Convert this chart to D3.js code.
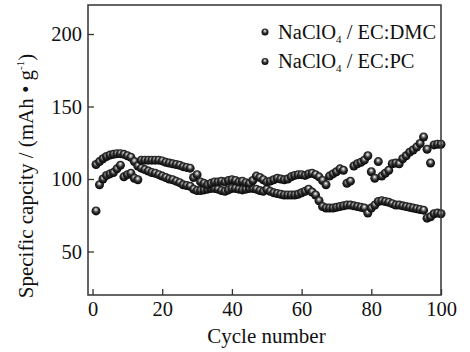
<!DOCTYPE html>
<html>
<head>
<meta charset="utf-8">
<script src="https://cdn.jsdelivr.net/npm/d3@7"></script>
<style>
  body { margin: 0; background: #fff; }
  svg text { font-family: "Liberation Serif", "Times New Roman", serif; fill: #111; }
</style>
</head>
<body>
<svg id="chart" width="470" height="352"></svg>
<script>
const cycles = d3.range(1, 101);

const seriesNames = ['NaClO4/EC:DMC', 'NaClO4/EC:PC'];

// EC:DMC capacity, cycles 1-100
const dmcValues = [
  110, 112, 114, 115.5, 116.5, 117, 117.5, 117.5, 117, 116,
  115, 112, 109, 107.5, 106.5, 105.5, 104.5, 104, 103, 102,
  101, 100, 99.5, 98.5, 97.5, 96, 95.5, 95, 93, 92,
  92, 92.5, 93, 93.5, 93.5, 93, 92, 91.5, 92.5, 93.5,
  93.5, 93, 92.5, 93, 93.5, 93.5, 93, 92, 91.5, 93,
  91.5, 90.5, 90, 89.5, 89, 89, 89, 89, 89.5, 90.5,
  91.5, 93, 91, 89, 85, 81, 80, 80, 80, 80.5,
  81, 81.5, 82, 82, 81.5, 81, 80.5, 80, 76.5, 80,
  82, 84.5, 85, 84.5, 84, 83, 82, 82, 81.5, 81,
  80.5, 80, 79.5, 79, 78.5, 73, 74, 76, 76.5, 76
];

// EC:PC capacity, cycles 1-100
const pcValues = [
  78, 96, 100, 102.5, 103.5, 104.5, 107, 109.5, 101.5, 103,
  104, 100.5, 99.5, 113, 113, 113, 113, 113, 113, 112.5,
  111.5, 111, 110.5, 110, 109.5, 108.5, 108, 107.5, 101, 103,
  98, 97, 96, 97, 98, 98, 98.5, 98, 99, 99.5,
  99, 98, 98.5, 97.5, 97, 99, 102, 101, 99.5, 98,
  98.5, 99.5, 100.5, 100, 99.5, 100, 101.5, 102.5, 103, 103,
  102.5, 103.5, 104, 103, 101.5, 99, 96, 102, 103.5, 105,
  107, 106, 97, 98.5, 109, 110.5, 111.5, 113, 116, 105,
  100.5, 112, 102, 104, 106, 110.5, 111, 110.5, 114, 116,
  118.5, 120, 122, 124.5, 129, 120.5, 111, 123.5, 124, 124
];

const xTicks = [0, 20, 40, 60, 80, 100];
const yTicks = [50, 100, 150, 200];

const svg = d3.select('#chart');
const plotLeft = 88, plotRight = 441, plotTop = 5, plotBottom = 295;

const x = d3.scaleLinear().domain([-1.3, 100]).range([plotLeft, plotRight]);
const y = d3.scaleLinear().domain([20, 220]).range([plotBottom, plotTop]);

// sphere look for the markers
const defs = svg.append('defs');
const grad = defs.append('radialGradient')
  .attr('id', 'ball')
  .attr('cx', '50%').attr('cy', '45%').attr('r', '55%')
  .attr('fx', '48%').attr('fy', '33%');
grad.append('stop').attr('offset', '0%').attr('stop-color', '#ffffff');
grad.append('stop').attr('offset', '22%').attr('stop-color', '#a8a8a8');
grad.append('stop').attr('offset', '55%').attr('stop-color', '#2e2e2e');
grad.append('stop').attr('offset', '100%').attr('stop-color', '#050505');

const series = [
  { name: seriesNames[0], values: dmcValues },
  { name: seriesNames[1], values: pcValues }
];

series.forEach(s => {
  svg.append('g')
    .selectAll('circle')
    .data(cycles.map((c, i) => ({ c: c, v: s.values[i] })))
    .enter()
    .append('circle')
    .attr('cx', d => x(d.c))
    .attr('cy', d => y(d.v))
    .attr('r', 4.5)
    .attr('fill', 'url(#ball)');
});

// axes, ticks pointing inward
const yAxis = svg.append('g')
  .attr('transform', `translate(${plotLeft},0)`)
  .call(d3.axisLeft(y).tickValues(yTicks).tickSizeInner(-6).tickSizeOuter(0).tickPadding(6));
const xAxis = svg.append('g')
  .attr('transform', `translate(0,${plotBottom})`)
  .call(d3.axisBottom(x).tickValues(xTicks).tickSizeInner(-6).tickSizeOuter(0).tickPadding(6));

[xAxis, yAxis].forEach(a => {
  a.select('.domain').remove();
  a.selectAll('line').attr('stroke', '#333').attr('stroke-width', 1.3);
  a.selectAll('text')
    .attr('font-family', '"Liberation Serif", "Times New Roman", serif')
    .attr('font-size', 20.5)
    .attr('fill', '#111');
});

svg.append('rect')
  .attr('x', plotLeft).attr('y', plotTop)
  .attr('width', plotRight - plotLeft).attr('height', plotBottom - plotTop)
  .attr('fill', 'none')
  .attr('stroke', '#333')
  .attr('stroke-width', 1.5);

// axis titles
svg.append('text')
  .attr('x', (plotLeft + plotRight) / 2 + 2)
  .attr('y', 343)
  .attr('text-anchor', 'middle')
  .attr('font-size', 21)
  .text('Cycle number');

const yTitle = svg.append('text')
  .attr('transform', 'translate(33,176) rotate(-90)')
  .attr('text-anchor', 'middle')
  .attr('font-size', 21);
yTitle.append('tspan').text('Specific capcity / (mAh \u2022 g');
yTitle.append('tspan').attr('font-size', 11).attr('dy', -9).text('-1');
yTitle.append('tspan').attr('dy', 9).text(')');

// legend
const legend = svg.append('g');
series.forEach((s, i) => {
  const ly = 32 + i * 29.5;
  legend.append('circle')
    .attr('cx', 265).attr('cy', ly)
    .attr('r', 3.5)
    .attr('fill', 'url(#ball)');
  const t = legend.append('text')
    .attr('x', 278).attr('y', ly + 6.5)
    .attr('font-size', 20.5);
  t.append('tspan').text('NaClO');
  t.append('tspan').attr('font-size', 11).attr('dy', 4).text('4');
  t.append('tspan').attr('dy', -4).text(i === 0 ? ' / EC:DMC' : ' / EC:PC');
});
</script>
</body>
</html>
